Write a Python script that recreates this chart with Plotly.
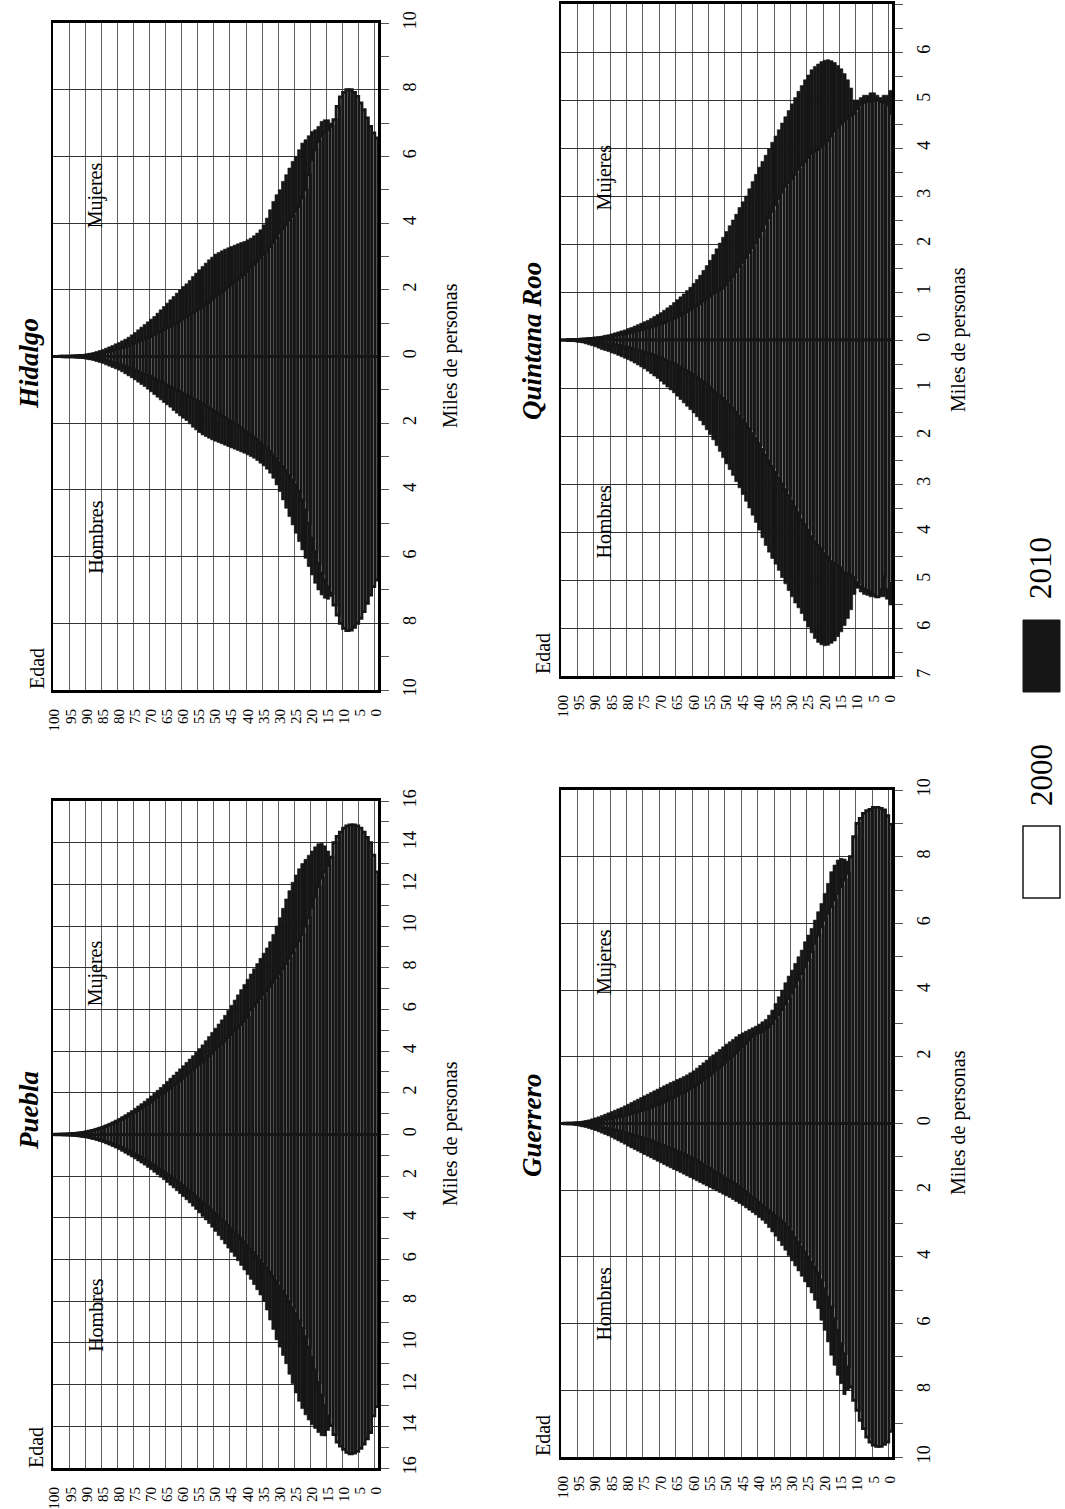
import plotly.graph_objects as go

SERIF = "Liberation Serif"
W, H = 1065, 1509

ages = list(range(101))
age_ticks = list(range(0, 101, 5))
age_tick_text = [str(a) for a in age_ticks]
age_grid = [a + 0.5 for a in range(0, 100, 5)]

# ---------------- Hidalgo ----------------
hid_muj_2010 = [5.8, 5.9, 6.0, 6.0, 6.0, 6.05, 6.05, 6.0, 6.05, 6.1,
                6.2, 6.4, 6.6, 6.85, 7.0, 7.1, 7.1, 7.05, 6.9, 6.8,
                6.75, 6.62, 6.5, 6.4, 6.2, 6.0, 5.85, 5.65, 5.45, 5.25,
                5.0, 4.85, 4.65, 4.4, 4.15, 3.95, 3.8, 3.7, 3.62, 3.55,
                3.5, 3.45, 3.42, 3.38, 3.34, 3.3, 3.26, 3.22, 3.17, 3.12,
                3.07, 2.98, 2.9, 2.8, 2.7, 2.6, 2.5, 2.4, 2.28, 2.18,
                2.1, 2.0, 1.9, 1.8, 1.7, 1.6, 1.5, 1.4, 1.3, 1.2,
                1.12, 1.04, 0.96, 0.88, 0.8, 0.72, 0.65, 0.58, 0.52, 0.47,
                0.42, 0.38, 0.33, 0.29, 0.25, 0.21, 0.18, 0.15, 0.12, 0.1,
                0.08, 0.06, 0.05, 0.04, 0.03, 0.02, 0.02, 0.01, 0.01, 0.01, 0.01]
hid_muj_2000 = [6.55, 6.7, 6.9, 7.15, 7.4, 7.6, 7.8, 7.92, 8.0, 8.0,
                7.92, 7.78, 7.5, 7.1, 6.9, 6.8, 6.7, 6.6, 6.45, 6.2,
                5.9, 5.45, 5.0, 4.75, 4.5, 4.35, 4.2, 4.08, 3.95, 3.82,
                3.7, 3.55, 3.42, 3.3, 3.15, 3.05, 2.95, 2.85, 2.75, 2.65,
                2.55, 2.45, 2.38, 2.3, 2.22, 2.15, 2.08, 2.0, 1.92, 1.85,
                1.78, 1.7, 1.62, 1.55, 1.48, 1.42, 1.36, 1.3, 1.24, 1.18,
                1.12, 1.06, 1.0, 0.95, 0.9, 0.85, 0.8, 0.75, 0.7, 0.65,
                0.6, 0.56, 0.52, 0.48, 0.44, 0.4, 0.36, 0.32, 0.29, 0.26,
                0.23, 0.2, 0.17, 0.15, 0.13, 0.11, 0.09, 0.08, 0.06, 0.05,
                0.04, 0.03, 0.03, 0.02, 0.02, 0.01, 0.01, 0.01, 0.01, 0.0, 0.0]
hid_hom_2010 = [6.0, 6.15, 6.25, 6.25, 6.25, 6.3, 6.3, 6.25, 6.3, 6.35,
                6.45, 6.65, 6.85, 7.05, 7.2, 7.28, 7.25, 7.15, 7.0, 6.8,
                6.55, 6.3, 6.05, 5.8, 5.55, 5.3, 5.05, 4.8, 4.55, 4.3,
                4.05, 3.85, 3.65, 3.5, 3.38, 3.28, 3.2, 3.12, 3.05, 3.0,
                2.95, 2.9, 2.86, 2.82, 2.78, 2.74, 2.7, 2.66, 2.62, 2.58,
                2.54, 2.5, 2.45, 2.4, 2.35, 2.28, 2.2, 2.12, 2.02, 1.92,
                1.85, 1.78, 1.7, 1.62, 1.52, 1.45, 1.38, 1.3, 1.22, 1.14,
                1.06, 0.98, 0.9, 0.84, 0.77, 0.7, 0.64, 0.58, 0.52, 0.46,
                0.41, 0.37, 0.33, 0.29, 0.25, 0.21, 0.18, 0.15, 0.12, 0.1,
                0.08, 0.06, 0.05, 0.04, 0.03, 0.02, 0.02, 0.01, 0.01, 0.01, 0.01]
hid_hom_2000 = [6.7, 6.9, 7.15, 7.4, 7.65, 7.85, 8.0, 8.12, 8.2, 8.22,
                8.15, 8.0, 7.75, 7.45, 7.1, 6.9, 6.7, 6.5, 6.2, 5.85,
                5.45, 5.0, 4.6, 4.3, 4.05, 3.85, 3.7, 3.55, 3.42, 3.3,
                3.18, 3.06, 2.95, 2.85, 2.75, 2.66, 2.57, 2.49, 2.41, 2.34,
                2.27, 2.2, 2.13, 2.06, 2.0, 1.94, 1.88, 1.82, 1.76, 1.7,
                1.64, 1.58, 1.52, 1.46, 1.4, 1.35, 1.3, 1.25, 1.2, 1.15,
                1.1, 1.05, 1.0, 0.95, 0.9, 0.85, 0.8, 0.75, 0.7, 0.65,
                0.6, 0.56, 0.52, 0.48, 0.44, 0.4, 0.36, 0.32, 0.28, 0.25,
                0.22, 0.19, 0.16, 0.14, 0.12, 0.1, 0.08, 0.07, 0.06, 0.05,
                0.04, 0.03, 0.02, 0.02, 0.01, 0.01, 0.01, 0.01, 0.0, 0.0, 0.0]

# ---------------- Quintana Roo ----------------
qroo_muj_2010 = [5.2, 5.1, 5.1, 5.05, 5.1, 5.15, 5.15, 5.1, 5.1, 5.05,
                 5.0, 5.0, 5.25, 5.42, 5.55, 5.65, 5.72, 5.78, 5.82, 5.84,
                 5.83, 5.8, 5.75, 5.7, 5.63, 5.52, 5.42, 5.3, 5.18, 5.05,
                 4.92, 4.78, 4.65, 4.52, 4.38, 4.25, 4.12, 3.98, 3.85, 3.72,
                 3.6, 3.45, 3.3, 3.15, 3.0, 2.88, 2.76, 2.62, 2.5, 2.38,
                 2.26, 2.14, 2.02, 1.9, 1.78, 1.66, 1.55, 1.45, 1.35, 1.26,
                 1.18, 1.1, 1.03, 0.96, 0.9, 0.84, 0.78, 0.72, 0.67, 0.62,
                 0.57, 0.53, 0.49, 0.45, 0.41, 0.38, 0.35, 0.32, 0.29, 0.26,
                 0.24, 0.21, 0.19, 0.17, 0.15, 0.13, 0.11, 0.1, 0.08, 0.07,
                 0.06, 0.05, 0.04, 0.03, 0.03, 0.02, 0.02, 0.01, 0.01, 0.01, 0.01]
qroo_muj_2000 = [4.72, 4.9, 4.95, 4.97, 5.0, 5.0, 4.98, 4.97, 4.95, 4.9,
                 4.82, 4.72, 4.68, 4.62, 4.56, 4.5, 4.42, 4.35, 4.25, 4.15,
                 4.08, 4.02, 3.97, 3.93, 3.88, 3.8, 3.72, 3.65, 3.55, 3.45,
                 3.36, 3.28, 3.2, 3.08, 2.95, 2.82, 2.68, 2.55, 2.42, 2.28,
                 2.15, 2.02, 1.92, 1.82, 1.72, 1.62, 1.52, 1.42, 1.32, 1.23,
                 1.15, 1.09, 1.04, 1.0, 0.96, 0.91, 0.86, 0.81, 0.76, 0.71,
                 0.67, 0.63, 0.59, 0.55, 0.51, 0.48, 0.45, 0.42, 0.39, 0.36,
                 0.33, 0.31, 0.29, 0.27, 0.25, 0.23, 0.21, 0.19, 0.17, 0.16,
                 0.14, 0.13, 0.12, 0.1, 0.09, 0.08, 0.07, 0.06, 0.05, 0.04,
                 0.04, 0.03, 0.03, 0.02, 0.02, 0.01, 0.01, 0.01, 0.01, 0.0, 0.0]
qroo_hom_2010 = [5.52, 5.4, 5.35, 5.35, 5.35, 5.35, 5.35, 5.32, 5.3, 5.25,
                 5.17, 5.3, 5.62, 5.8, 5.95, 6.08, 6.18, 6.27, 6.32, 6.36,
                 6.37, 6.35, 6.3, 6.22, 6.1, 5.98, 5.85, 5.7, 5.58, 5.48,
                 5.35, 5.22, 5.08, 4.95, 4.8, 4.67, 4.55, 4.42, 4.28, 4.12,
                 3.96, 3.8, 3.65, 3.5, 3.36, 3.22, 3.08, 2.95, 2.82, 2.7,
                 2.58, 2.45, 2.32, 2.2, 2.08, 1.97, 1.87, 1.77, 1.68, 1.6,
                 1.52, 1.45, 1.38, 1.31, 1.24, 1.17, 1.1, 1.04, 0.98, 0.92,
                 0.86, 0.8, 0.75, 0.7, 0.65, 0.6, 0.56, 0.52, 0.48, 0.44,
                 0.41, 0.38, 0.35, 0.32, 0.29, 0.27, 0.24, 0.22, 0.2, 0.17,
                 0.14, 0.12, 0.1, 0.08, 0.06, 0.05, 0.04, 0.03, 0.02, 0.02, 0.01]
qroo_hom_2000 = [5.07, 5.2, 4.93, 5.2, 5.35, 5.3, 5.25, 5.21, 5.18, 5.14,
                 5.05, 4.95, 4.9, 4.87, 4.83, 4.75, 4.69, 4.65, 4.62, 4.52,
                 4.44, 4.35, 4.28, 4.2, 4.1, 3.96, 3.85, 3.75, 3.6, 3.48,
                 3.36, 3.24, 3.12, 3.0, 2.88, 2.76, 2.64, 2.52, 2.4, 2.28,
                 2.16, 2.05, 1.95, 1.85, 1.75, 1.66, 1.58, 1.5, 1.42, 1.35,
                 1.28, 1.22, 1.16, 1.1, 1.04, 0.98, 0.92, 0.87, 0.82, 0.77,
                 0.72, 0.68, 0.64, 0.6, 0.56, 0.52, 0.49, 0.46, 0.43, 0.4,
                 0.37, 0.34, 0.31, 0.29, 0.27, 0.25, 0.23, 0.21, 0.19, 0.17,
                 0.15, 0.14, 0.12, 0.11, 0.1, 0.09, 0.08, 0.07, 0.06, 0.05,
                 0.04, 0.04, 0.03, 0.03, 0.02, 0.02, 0.01, 0.01, 0.01, 0.0, 0.0]

# ---------------- Puebla ----------------
pue_muj_2010 = [11.6, 11.8, 11.9, 12.0, 12.0, 12.0, 12.0, 12.0, 12.0, 12.05,
                12.1, 12.3, 12.6, 12.95, 13.3, 13.6, 13.85, 13.97, 13.95, 13.8,
                13.6, 13.4, 13.2, 13.0, 12.75, 12.45, 12.1, 11.7, 11.3, 10.85,
                10.4, 10.0, 9.6, 9.25, 8.95, 8.7, 8.45, 8.2, 7.95, 7.7,
                7.45, 7.2, 6.95, 6.7, 6.45, 6.2, 5.95, 5.72, 5.5, 5.3,
                5.1, 4.9, 4.7, 4.5, 4.3, 4.12, 3.95, 3.78, 3.62, 3.46,
                3.3, 3.15, 3.0, 2.85, 2.7, 2.55, 2.4, 2.26, 2.12, 1.98,
                1.85, 1.72, 1.6, 1.48, 1.37, 1.26, 1.15, 1.05, 0.95, 0.86,
                0.77, 0.69, 0.61, 0.54, 0.47, 0.41, 0.35, 0.3, 0.25, 0.21,
                0.17, 0.14, 0.11, 0.08, 0.06, 0.05, 0.04, 0.03, 0.02, 0.02, 0.02]
pue_muj_2000 = [12.6, 13.4, 14.0, 14.25, 14.5, 14.7, 14.8, 14.85, 14.85, 14.8,
                14.7, 14.5, 14.3, 14.0, 13.3, 12.9, 12.6, 12.3, 11.9, 11.4,
                10.9, 10.4, 10.0, 9.6, 9.3, 9.0, 8.7, 8.45, 8.2, 7.95,
                7.7, 7.5, 7.3, 7.1, 6.9, 6.7, 6.52, 6.34, 6.16, 5.98,
                5.6, 5.44, 5.28, 5.12, 4.96, 4.8, 4.65, 4.5, 4.35, 4.2,
                4.05, 3.9, 3.76, 3.62, 3.48, 3.35, 3.22, 3.09, 2.96, 2.83,
                2.7, 2.58, 2.46, 2.34, 2.22, 2.1, 1.99, 1.88, 1.77, 1.66,
                1.55, 1.45, 1.35, 1.25, 1.15, 1.06, 0.97, 0.88, 0.8, 0.72,
                0.64, 0.57, 0.5, 0.44, 0.38, 0.33, 0.28, 0.23, 0.19, 0.16,
                0.13, 0.1, 0.08, 0.06, 0.05, 0.04, 0.03, 0.02, 0.02, 0.01, 0.01]
pue_hom_2010 = [12.0, 12.3, 12.45, 12.5, 12.5, 12.5, 12.5, 12.5, 12.5, 12.55,
                12.65, 12.85, 13.1, 13.4, 13.8, 14.2, 14.46, 14.45, 14.3, 14.1,
                13.93, 13.7, 13.45, 13.15, 12.8, 12.4, 11.95, 11.5, 11.0, 10.6,
                10.2, 9.85, 9.35, 8.9, 8.42, 8.0, 7.7, 7.45, 7.2, 6.95,
                6.72, 6.5, 6.28, 6.06, 5.85, 5.65, 5.45, 5.25, 5.05, 4.85,
                4.65, 4.45, 4.27, 4.1, 3.93, 3.76, 3.6, 3.44, 3.28, 3.13,
                2.98, 2.84, 2.7, 2.56, 2.43, 2.3, 2.17, 2.05, 1.93, 1.81,
                1.69, 1.58, 1.47, 1.37, 1.27, 1.17, 1.08, 0.99, 0.9, 0.81,
                0.73, 0.65, 0.58, 0.51, 0.45, 0.39, 0.34, 0.29, 0.24, 0.2,
                0.16, 0.13, 0.1, 0.08, 0.06, 0.05, 0.04, 0.03, 0.02, 0.02, 0.02]
pue_hom_2000 = [13.05, 13.5, 14.3, 14.6, 14.85, 15.05, 15.2, 15.28, 15.32, 15.25,
                15.1, 14.95, 14.75, 14.4, 13.95, 13.5, 13.0, 12.5, 11.9, 11.3,
                10.7, 10.2, 9.7, 9.3, 8.95, 8.6, 8.3, 8.0, 7.75, 7.5,
                7.25, 7.02, 6.8, 6.6, 6.4, 6.2, 6.02, 5.84, 5.66, 5.48,
                5.3, 5.14, 4.98, 4.82, 4.66, 4.5, 4.35, 4.2, 4.05, 3.9,
                3.76, 3.62, 3.48, 3.35, 3.22, 3.09, 2.96, 2.83, 2.7, 2.58,
                2.46, 2.34, 2.22, 2.1, 1.99, 1.88, 1.77, 1.66, 1.56, 1.46,
                1.36, 1.27, 1.18, 1.09, 1.0, 0.92, 0.84, 0.76, 0.69, 0.62,
                0.55, 0.49, 0.43, 0.38, 0.33, 0.28, 0.24, 0.2, 0.17, 0.14,
                0.11, 0.09, 0.07, 0.05, 0.04, 0.03, 0.02, 0.02, 0.01, 0.01, 0.01]

# ---------------- Guerrero ----------------
gro_muj_2010 = [7.0, 7.0, 7.0, 7.0, 7.0, 7.0, 7.0, 7.02, 7.05, 7.1,
                7.2, 7.4, 7.65, 7.87, 7.93, 7.95, 7.9, 7.75, 7.55, 7.2,
                6.9, 6.6, 6.35, 6.1, 5.85, 5.65, 5.45, 5.2, 5.0, 4.8,
                4.6, 4.42, 4.22, 4.0, 3.8, 3.6, 3.4, 3.25, 3.12, 3.05,
                2.98, 2.92, 2.87, 2.82, 2.77, 2.72, 2.67, 2.6, 2.52, 2.45,
                2.38, 2.3, 2.22, 2.14, 2.06, 1.98, 1.9, 1.82, 1.74, 1.66,
                1.58, 1.52, 1.46, 1.41, 1.36, 1.32, 1.27, 1.23, 1.18, 1.13,
                1.08, 1.03, 0.98, 0.93, 0.88, 0.83, 0.78, 0.73, 0.68, 0.63,
                0.58, 0.53, 0.48, 0.44, 0.4, 0.36, 0.32, 0.28, 0.24, 0.2,
                0.17, 0.14, 0.11, 0.09, 0.07, 0.05, 0.04, 0.03, 0.02, 0.01, 0.01]
gro_muj_2000 = [8.97, 9.23, 9.4, 9.45, 9.48, 9.48, 9.42, 9.38, 9.3, 9.15,
                9.0, 8.6, 8.0, 7.5, 7.3, 7.1, 6.9, 6.7, 6.5, 6.3,
                6.1, 5.9, 5.65, 5.4, 5.15, 4.9, 4.7, 4.5, 4.3, 4.1,
                3.92, 3.75, 3.58, 3.42, 3.27, 3.13, 3.0, 2.9, 2.82, 2.76,
                2.72, 2.68, 2.6, 2.5, 2.4, 2.3, 2.2, 2.11, 2.02, 1.93,
                1.84, 1.76, 1.68, 1.6, 1.52, 1.44, 1.37, 1.3, 1.23, 1.16,
                1.1, 1.04, 0.98, 0.93, 0.88, 0.83, 0.78, 0.73, 0.68, 0.64,
                0.6, 0.56, 0.52, 0.48, 0.44, 0.41, 0.38, 0.35, 0.32, 0.29,
                0.26, 0.23, 0.21, 0.19, 0.17, 0.15, 0.13, 0.11, 0.09, 0.08,
                0.07, 0.06, 0.05, 0.04, 0.03, 0.02, 0.02, 0.01, 0.01, 0.01, 0.0]
gro_hom_2010 = [7.35, 7.35, 7.35, 7.35, 7.35, 7.35, 7.35, 7.35, 7.38, 7.42,
                7.5, 7.62, 7.8, 8.0, 8.13, 7.8, 7.55, 7.25, 6.95, 6.55,
                6.2, 5.9, 5.55, 5.3, 5.08, 4.9, 4.75, 4.58, 4.42, 4.27,
                4.12, 3.96, 3.8, 3.66, 3.52, 3.38, 3.25, 3.12, 3.0, 2.9,
                2.82, 2.74, 2.67, 2.6, 2.53, 2.46, 2.4, 2.34, 2.28, 2.22,
                2.17, 2.12, 2.07, 2.02, 1.97, 1.92, 1.87, 1.82, 1.77, 1.72,
                1.67, 1.62, 1.57, 1.52, 1.47, 1.42, 1.38, 1.33, 1.28, 1.23,
                1.18, 1.13, 1.08, 1.03, 0.98, 0.93, 0.88, 0.83, 0.78, 0.73,
                0.68, 0.62, 0.57, 0.52, 0.47, 0.42, 0.37, 0.33, 0.29, 0.25,
                0.21, 0.18, 0.15, 0.12, 0.1, 0.08, 0.06, 0.04, 0.03, 0.02, 0.01]
gro_hom_2000 = [9.23, 9.55, 9.62, 9.68, 9.68, 9.64, 9.55, 9.4, 9.15, 8.9,
                8.6, 8.3, 7.9, 7.3, 6.9, 6.6, 6.2, 5.85, 5.5, 5.2,
                4.95, 4.7, 4.48, 4.3, 4.15, 4.0, 3.85, 3.7, 3.55, 3.42,
                3.25, 3.1, 3.0, 2.92, 2.84, 2.76, 2.68, 2.6, 2.52, 2.44,
                2.36, 2.28, 2.2, 2.12, 2.04, 1.96, 1.88, 1.82, 1.76, 1.7,
                1.64, 1.58, 1.52, 1.46, 1.4, 1.34, 1.28, 1.22, 1.16, 1.1,
                1.05, 1.0, 0.95, 0.9, 0.86, 0.82, 0.78, 0.74, 0.7, 0.66,
                0.62, 0.58, 0.54, 0.5, 0.47, 0.44, 0.41, 0.38, 0.35, 0.32,
                0.29, 0.26, 0.23, 0.21, 0.19, 0.17, 0.15, 0.13, 0.11, 0.09,
                0.08, 0.07, 0.06, 0.05, 0.04, 0.03, 0.02, 0.01, 0.01, 0.01, 0.0]

# tick values of the population axes (labels are shown as absolute values)
hid_ticks = [-10, -8, -6, -4, -2, 0, 2, 4, 6, 8, 10]
hid_minor = [-9, -7, -5, -3, -1, 1, 3, 5, 7, 9]
qroo_ticks = [-7, -6, -5, -4, -3, -2, -1, 0, 1, 2, 3, 4, 5, 6, 7]
qroo_minor = [-6.5, -5.5, -4.5, -3.5, -2.5, -1.5, -0.5, 0.5, 1.5, 2.5, 3.5, 4.5, 5.5, 6.5]
pue_ticks = [-16, -14, -12, -10, -8, -6, -4, -2, 0, 2, 4, 6, 8, 10, 12, 14, 16]
pue_minor = [-15, -13, -11, -9, -7, -5, -3, -1, 1, 3, 5, 7, 9, 11, 13, 15]
gro_ticks = [-10, -8, -6, -4, -2, 0, 2, 4, 6, 8, 10]
gro_minor = [-9, -7, -5, -3, -1, 1, 3, 5, 7, 9]

BLACK = "#161616"


def X(px):
    return px / W


def Y(py):
    return 1 - py / H


panels = [
    dict(title="Hidalgo", muj10=hid_muj_2010, muj00=hid_muj_2000, hom10=hid_hom_2010, hom00=hid_hom_2000,
         rng=10, ticks=hid_ticks, minor=hid_minor, px=(53, 378), py=(23, 690),
         title_xy=(29, 364), miles_xy=(450, 356), edad_xy=(37, 669)),
    dict(title="Quintana Roo", muj10=qroo_muj_2010, muj00=qroo_muj_2000, hom10=qroo_hom_2010, hom00=qroo_hom_2000,
         rng=7, ticks=qroo_ticks, minor=qroo_minor, px=(561, 892), py=(4, 676),
         title_xy=(532, 341), miles_xy=(958, 340), edad_xy=(543, 654)),
    dict(title="Puebla", muj10=pue_muj_2010, muj00=pue_muj_2000, hom10=pue_hom_2010, hom00=pue_hom_2000,
         rng=16, ticks=pue_ticks, minor=pue_minor, px=(53, 378), py=(801, 1468),
         title_xy=(29, 1111), miles_xy=(450, 1134), edad_xy=(36, 1447)),
    dict(title="Guerrero", muj10=gro_muj_2010, muj00=gro_muj_2000, hom10=gro_hom_2010, hom00=gro_hom_2000,
         rng=10, ticks=gro_ticks, minor=gro_minor, px=(561, 892), py=(790, 1457),
         title_xy=(532, 1125), miles_xy=(958, 1123), edad_xy=(543, 1436)),
]

fig = go.Figure()
annotations = []
layout_axes = {}

for i, p in enumerate(panels, start=1):
    xa = "x" if i == 1 else f"x{i}"
    ya = "y" if i == 1 else f"y{i}"
    # 2010: black bars (behind)
    fig.add_trace(go.Bar(x=ages, y=p["muj10"], xaxis=xa, yaxis=ya, width=1,
                         marker=dict(color=BLACK, line=dict(color=BLACK, width=0.6)),
                         showlegend=False, hoverinfo="skip"))
    fig.add_trace(go.Bar(x=ages, y=[-v for v in p["hom10"]], xaxis=xa, yaxis=ya, width=1,
                         marker=dict(color=BLACK, line=dict(color=BLACK, width=0.6)),
                         showlegend=False, hoverinfo="skip"))
    # 2000: white bars with heavy black outline (front)
    fig.add_trace(go.Bar(x=ages, y=p["muj00"], xaxis=xa, yaxis=ya, width=1,
                         marker=dict(color="white", line=dict(color=BLACK, width=2.9)),
                         showlegend=False, hoverinfo="skip"))
    fig.add_trace(go.Bar(x=ages, y=[-v for v in p["hom00"]], xaxis=xa, yaxis=ya, width=1,
                         marker=dict(color="white", line=dict(color=BLACK, width=2.9)),
                         showlegend=False, hoverinfo="skip"))

    xkey = "xaxis" if i == 1 else f"xaxis{i}"
    ykey = "yaxis" if i == 1 else f"yaxis{i}"
    layout_axes[xkey] = dict(
        domain=[X(p["px"][0]), X(p["px"][1])], anchor=ya, range=[100.5, -0.5],
        tickmode="array", tickvals=age_ticks, ticktext=age_tick_text, tickangle=-90,
        tickfont=dict(family=SERIF, size=15, color="black"), ticks="",
        showgrid=False, zeroline=False, automargin=False,
        minor=dict(tickvals=age_grid, showgrid=True, gridcolor="#5e5e5e", gridwidth=1, ticks=""),
        showline=True, linecolor="black", linewidth=3, mirror=True, ticklabelstandoff=10,
        fixedrange=True)
    layout_axes[ykey] = dict(
        domain=[Y(p["py"][1]), Y(p["py"][0])], anchor=xa, side="right",
        range=[-p["rng"], p["rng"]], automargin=False,
        tickmode="array", tickvals=p["ticks"], ticktext=[f"{abs(v):g}" for v in p["ticks"]],
        tickangle=-90, tickfont=dict(family=SERIF, size=18, color="black"),
        ticks="outside", ticklen=8, tickcolor="#555", tickwidth=1,
        showgrid=True, gridcolor="#333", gridwidth=1, zeroline=False,
        minor=dict(tickvals=p["minor"], ticks="outside", ticklen=8, tickcolor="#555", tickwidth=1, showgrid=False),
        showline=True, linecolor="black", linewidth=2.5, mirror=True, ticklabelstandoff=6,
        fixedrange=True)

    tx, ty = p["title_xy"]
    annotations.append(dict(text=f"<b><i>{p['title']}</i></b>", x=X(tx), y=Y(ty), xref="paper", yref="paper",
                            showarrow=False, textangle=-90, xanchor="center", yanchor="middle",
                            font=dict(family=SERIF, size=27, color="black")))
    mx, my = p["miles_xy"]
    annotations.append(dict(text="Miles de personas", x=X(mx), y=Y(my), xref="paper", yref="paper",
                            showarrow=False, textangle=-90, xanchor="center", yanchor="middle",
                            font=dict(family=SERIF, size=20, color="black")))
    ex, ey = p["edad_xy"]
    annotations.append(dict(text="Edad", x=X(ex), y=Y(ey), xref="paper", yref="paper",
                            showarrow=False, textangle=-90, xanchor="center", yanchor="middle",
                            font=dict(family=SERIF, size=20, color="black")))
    annotations.append(dict(text="Mujeres", x=0.13, y=0.742, xref=f"{xa} domain", yref=f"{ya} domain",
                            showarrow=False, textangle=-90, xanchor="center", yanchor="middle",
                            font=dict(family=SERIF, size=20, color="black")))
    annotations.append(dict(text="Hombres", x=0.13, y=0.23, xref=f"{xa} domain", yref=f"{ya} domain",
                            showarrow=False, textangle=-90, xanchor="center", yanchor="middle",
                            font=dict(family=SERIF, size=20, color="black")))

# legend (rotated, drawn manually)
shapes = [
    dict(type="rect", xref="paper", yref="paper", x0=X(1023), x1=X(1060), y0=Y(692), y1=Y(620),
         fillcolor=BLACK, line=dict(color=BLACK, width=1)),
    dict(type="rect", xref="paper", yref="paper", x0=X(1023), x1=X(1060), y0=Y(898), y1=Y(826),
         fillcolor="white", line=dict(color=BLACK, width=1.5)),
]
annotations.append(dict(text="2010", x=X(1041), y=Y(568), xref="paper", yref="paper", showarrow=False,
                        textangle=-90, xanchor="center", yanchor="middle",
                        font=dict(family=SERIF, size=31, color="black")))
annotations.append(dict(text="2000", x=X(1041), y=Y(775), xref="paper", yref="paper", showarrow=False,
                        textangle=-90, xanchor="center", yanchor="middle",
                        font=dict(family=SERIF, size=31, color="black")))

fig.update_layout(
    width=W, height=H, margin=dict(l=0, r=0, t=0, b=0, autoexpand=False),
    paper_bgcolor="white", plot_bgcolor="white",
    barmode="overlay", bargap=0, showlegend=False,
    annotations=annotations, shapes=shapes,
    **layout_axes,
)

fig.write_html("out.html", config={"displayModeBar": False, "staticPlot": True},
               post_script="document.body.style.margin='0px';")
